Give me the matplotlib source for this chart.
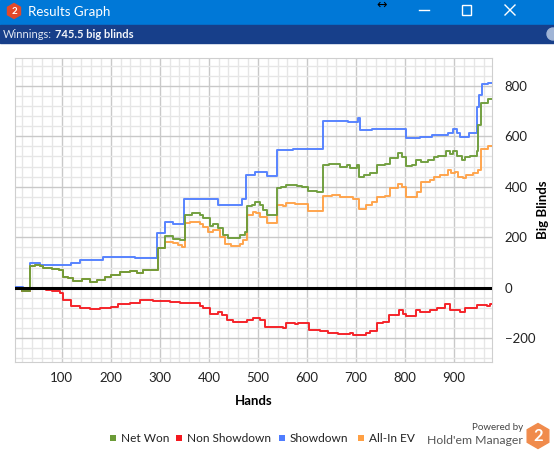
import matplotlib
matplotlib.use("Agg")
import matplotlib.pyplot as plt
from matplotlib.lines import Line2D
from matplotlib.patches import Rectangle, RegularPolygon, Circle
from matplotlib.transforms import IdentityTransform
from matplotlib.ticker import MultipleLocator

# ---- data (hand number where the value changes, new value in big blinds)
net_hands = [5, 20, 35, 45, 55, 62, 80, 95, 103, 113, 124, 141, 158, 172, 188, 200, 219, 239, 253, 266,
             296, 310, 327, 341, 351, 366, 382, 389, 402, 409, 419, 429, 440, 463, 474, 477, 487, 494, 504,
             511, 518, 538, 548, 558, 579, 589, 602, 620, 632, 645, 667, 681, 688, 701, 706, 716, 728, 742,
             759, 769, 786, 793, 801, 813, 822, 833, 847, 859, 867, 884, 891, 898, 905, 915, 922, 932, 946,
             949, 954, 969, 977]
net_won = [-2, -12, 86, 90, 85, 80, 75, 72, 41, 37, 26, 33, 24, 31, 44, 50, 61, 66, 58, 70,
           156, 205, 195, 189, 288, 295, 289, 275, 244, 254, 235, 209, 198, 209, 222, 324, 328, 341, 328,
           308, 288, 394, 398, 407, 402, 398, 383, 380, 486, 492, 479, 486, 476, 485, 437, 446, 456, 486,
           490, 512, 532, 519, 482, 486, 506, 499, 505, 516, 523, 543, 530, 543, 523, 506, 519, 523, 543,
           644, 730, 746, 746]

nsd_hands = [5, 20, 36, 69, 80, 97, 103, 120, 137, 158, 178, 200, 215, 239, 260, 287, 300, 321, 341, 365,
             382, 389, 402, 419, 426, 436, 450, 477, 490, 504, 514, 552, 558, 575, 582, 605, 626, 643, 664,
             687, 694, 721, 728, 742, 755, 768, 788, 796, 802, 823, 830, 850, 864, 881, 891, 911, 922, 946,
             966, 972, 977]
non_showdown = [-2, -12, -5, -8, -12, -20, -49, -72, -79, -86, -82, -78, -66, -59, -49, -51, -53, -57, -62, -59,
                -72, -82, -105, -96, -108, -128, -134, -128, -119, -128, -154, -161, -141, -145, -138, -167, -171,
                -178, -185, -181, -188, -181, -171, -141, -135, -108, -88, -104, -112, -88, -95, -90, -81, -65,
                -87, -95, -79, -69, -72, -63, -63]

sd_hands = [5, 21, 36, 56, 120, 137, 184, 249, 295, 310, 327, 349, 419, 467, 476, 494, 518, 538, 572, 632,
            684, 704, 709, 732, 801, 830, 854, 888, 898, 905, 912, 930, 947, 950, 956, 968, 977]
showdown = [2, 0, 97, 90, 99, 110, 123, 119, 215, 261, 252, 351, 326, 351, 446, 459, 442, 545, 549, 661,
            657, 673, 624, 627, 592, 596, 605, 611, 627, 611, 598, 614, 717, 763, 807, 810, 810]

ev_hands = [5, 20, 35, 45, 55, 62, 80, 95, 103, 113, 124, 141, 158, 172, 188, 200, 219, 239, 253, 266,
            296, 310, 327, 337, 345, 351, 362, 382, 389, 399, 409, 422, 432, 446, 463, 470, 477, 490, 497,
            504, 518, 538, 552, 558, 575, 589, 602, 632, 650, 667, 694, 706, 721, 732, 742, 759, 769, 786,
            793, 801, 824, 832, 851, 858, 872, 888, 894, 901, 908, 918, 925, 939, 949, 955, 969, 977]
all_in_ev = [-2, -12, 86, 90, 85, 80, 75, 72, 41, 37, 26, 33, 24, 31, 44, 50, 61, 66, 58, 70,
             156, 180, 178, 169, 160, 257, 261, 254, 242, 222, 228, 202, 173, 165, 173, 189, 288, 299, 296,
             279, 255, 328, 324, 336, 330, 333, 305, 364, 367, 360, 350, 310, 328, 341, 360, 364, 394, 411,
             400, 360, 380, 420, 426, 437, 446, 466, 455, 460, 440, 433, 446, 456, 466, 548, 561, 561]

legend_labels = ["Net Won", "Non Showdown", "Showdown", "All-In EV"]
colors = {"Net Won": "#6b9b37", "Non Showdown": "#f5181e", "Showdown": "#4f7dff", "All-In EV": "#ffa044"}

W, H = 554, 450
FONT = ["Lato", "DejaVu Sans"]
plt.rcParams["font.family"] = FONT


def fx(x):
    return x / W


def fy(y):
    return 1 - y / H


fig = plt.figure(figsize=(W / 100, H / 100), dpi=100, facecolor="white")
renderer = fig.canvas.get_renderer()

# window title bar and the winnings bar
fig.add_artist(Rectangle((0, fy(25)), 1, 25 / H, transform=fig.transFigure, color="#0078d7", zorder=0))
fig.add_artist(Rectangle((0, fy(43)), 1, 18 / H, transform=fig.transFigure, color="#173f8a", zorder=0))
fig.add_artist(RegularPolygon((14, H - 11), 6, radius=7.5, transform=IdentityTransform(), color="#e2492a"))
fig.text(fx(14), fy(11), "2", color="white", fontsize=7, fontweight="bold", ha="center", va="center")
fig.text(fx(28), fy(11.5), "Results Graph", color="white", fontsize=9.6, va="center")
fig.text(fx(382), fy(5), "↔", color="black", fontsize=9, ha="center", va="center", family="DejaVu Sans")
fig.add_artist(Line2D([fx(419), fx(429)], [fy(10), fy(10)], transform=fig.transFigure, color="white", lw=1))
fig.add_artist(Rectangle((fx(462), fy(14.5)), 9 / W, 9 / H, transform=fig.transFigure,
                         fill=False, edgecolor="white", lw=1))
fig.add_artist(Line2D([fx(505), fx(515)], [fy(5), fy(15)], transform=fig.transFigure, color="white", lw=1))
fig.add_artist(Line2D([fx(505), fx(515)], [fy(15), fy(5)], transform=fig.transFigure, color="white", lw=1))
t = fig.text(fx(3), fy(34), "Winnings:", color="#dfe6f2", fontsize=8, va="center")
x_end = t.get_window_extent(renderer).x1
fig.text(fx(x_end + 3), fy(34), "745.5 big blinds", color="#f2f5fa", fontsize=8, fontweight="bold", va="center")
fig.add_artist(Circle((553, H - 34), 6, transform=IdentityTransform(), color="#9fb4d6"))

# plot area
ax = fig.add_axes([fx(15), fy(362), (492 - 15) / W, (362 - 58) / H])
series = [("Showdown", sd_hands, showdown), ("All-In EV", ev_hands, all_in_ev),
          ("Non Showdown", nsd_hands, non_showdown), ("Net Won", net_hands, net_won)]
for name, xs, ys in series:
    ax.plot(xs, ys, drawstyle="steps-post", color=colors[name], lw=1.4, alpha=0.95, zorder=3)
ax.axhline(0, color="black", lw=2.2, zorder=4)

ax.set_xlim(5, 977)
ax.set_ylim(-294, 910)
ax.xaxis.set_major_locator(MultipleLocator(100))
ax.xaxis.set_minor_locator(MultipleLocator(20))
ax.yaxis.set_major_locator(MultipleLocator(200))
ax.yaxis.set_minor_locator(MultipleLocator(40))
ax.grid(which="major", color="#c9c9c9", lw=1)
ax.grid(which="minor", color="#e6e6e6", lw=1)
ax.set_axisbelow(True)
for s in ax.spines.values():
    s.set_color("#cfcfcf")
ax.yaxis.tick_right()
ax.yaxis.set_label_position("right")
ax.tick_params(which="both", length=0)
ax.tick_params(axis="x", pad=7, labelsize=9.5, labelcolor="#222222")
ax.tick_params(axis="y", pad=9, labelsize=9.5, labelcolor="#222222")
for lab in ax.get_yticklabels():
    lab.set_horizontalalignment("left")
ax.set_xlabel("Hands", fontsize=9.5, fontweight="bold", labelpad=8)
ax.set_ylabel("Big Blinds", fontsize=9.5, fontweight="bold")
ax.yaxis.set_label_coords((537 - 15) / 477, 0.5)

# legend, placed item by item as in the screenshot
legend_x = [113, 179, 282, 361]
for name, x in zip(legend_labels, legend_x):
    fig.add_artist(Rectangle((fx(x - 3), fy(441)), 6 / W, 6 / H, transform=fig.transFigure,
                             color=colors[name], lw=0))
    fig.text(fx(x + 8), fy(438), name, fontsize=8.6, color="#222222", va="center")

# "Powered by Hold'em Manager" badge
fig.text(fx(523), fy(427), "Powered by", fontsize=7, color="#444444", ha="right", va="center")
fig.text(fx(523), fy(440), "Hold'em Manager", fontsize=8.8, color="#555555", ha="right", va="center")
fig.add_artist(RegularPolygon((538, H - 436), 6, radius=12.5, transform=IdentityTransform(), color="#f08b4c"))
fig.text(fx(538), fy(436), "2", color="white", fontsize=12, fontweight="bold", ha="center", va="center")

fig.savefig("out.png", dpi=100)
